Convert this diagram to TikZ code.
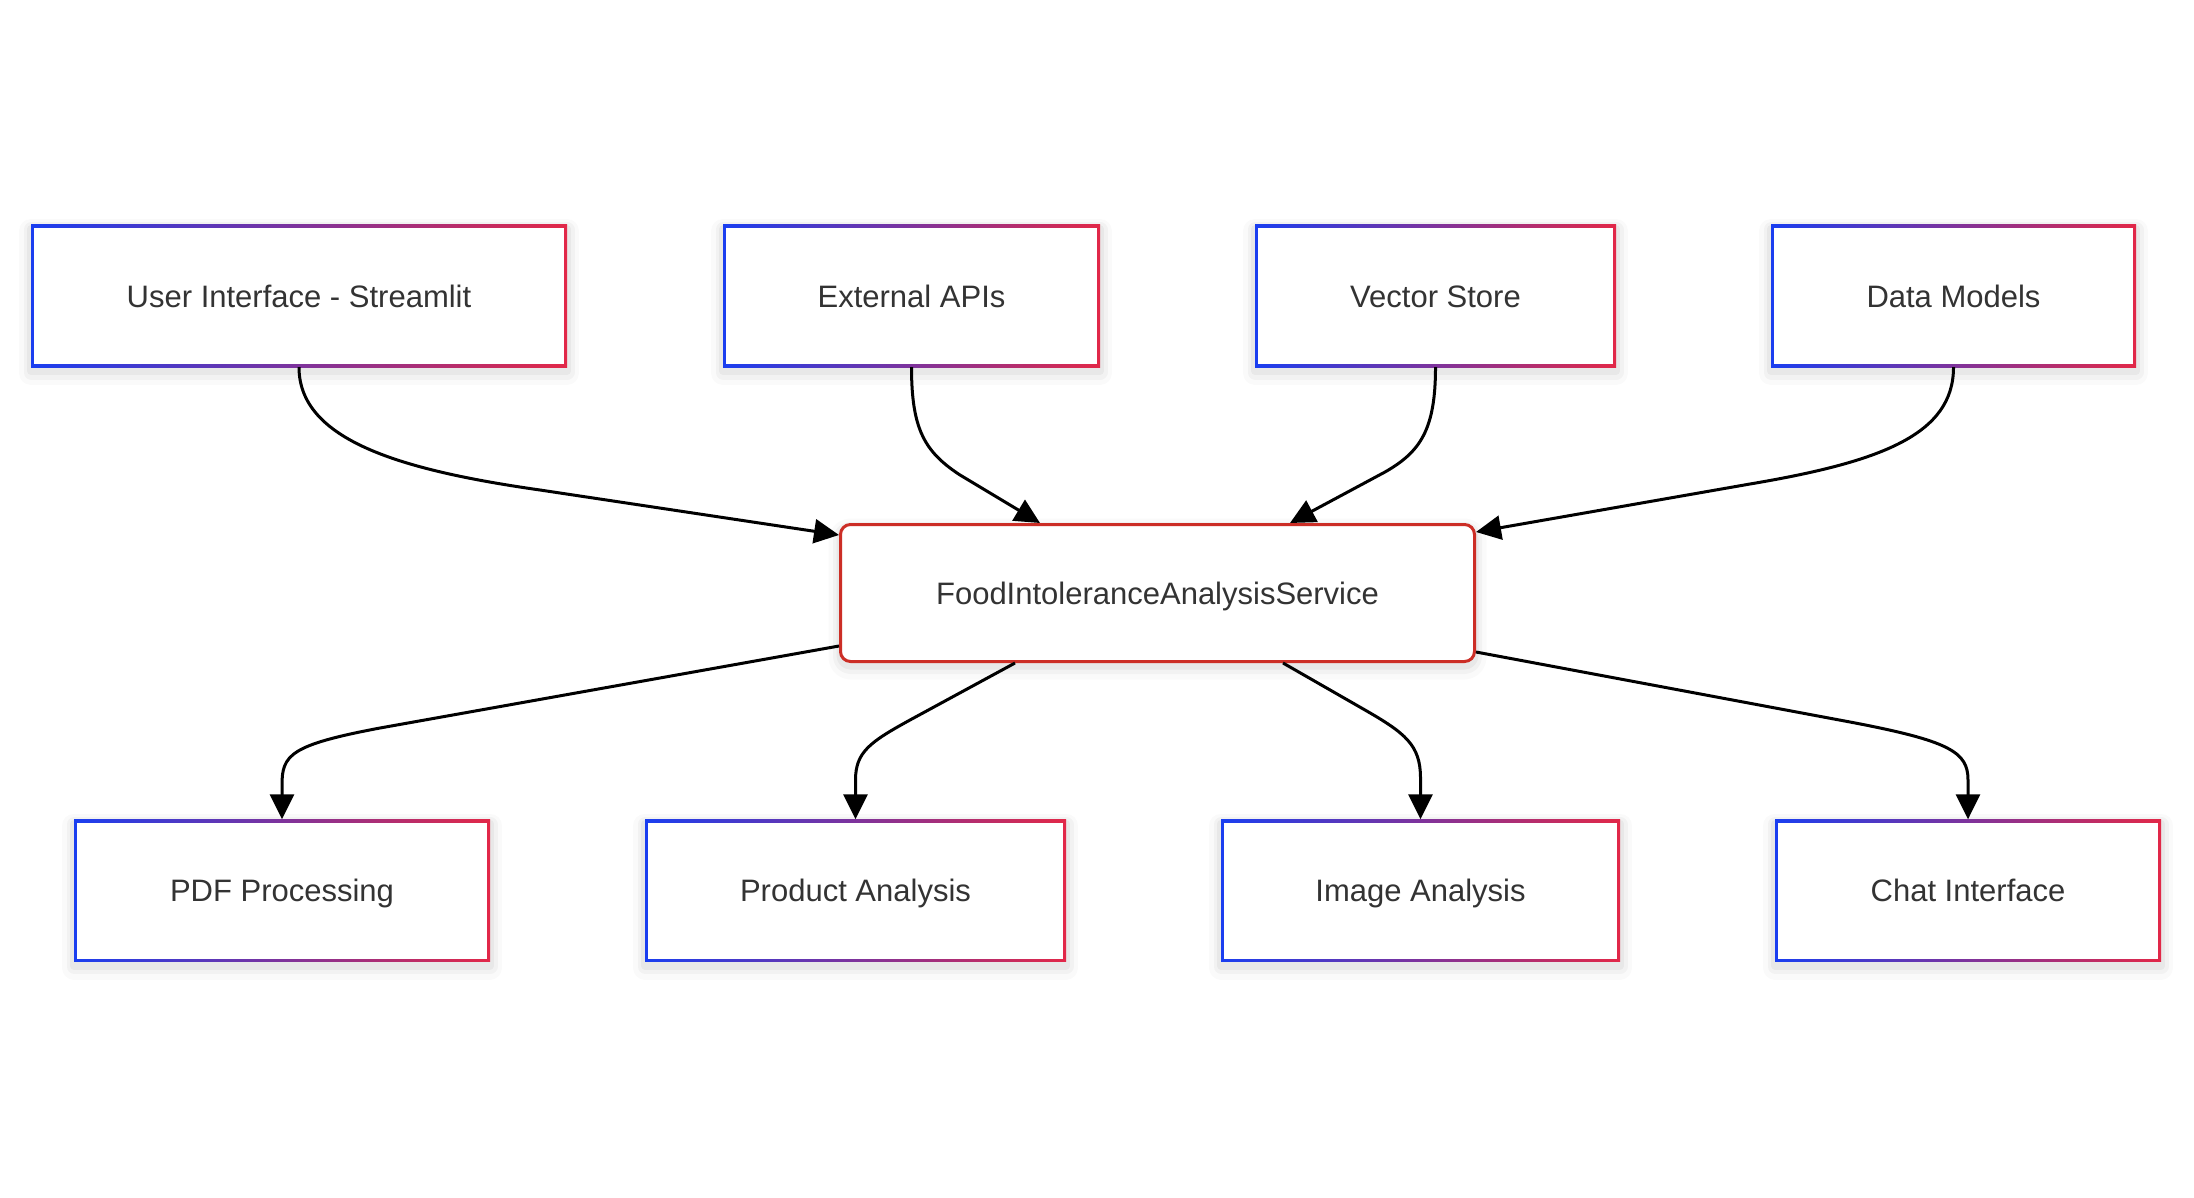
\documentclass[tikz,border=0pt]{standalone}
\usepackage{fontspec}
\setmainfont{Liberation Sans}
\usetikzlibrary{arrows.meta}
\definecolor{gblue}{RGB}{26,62,240}
\definecolor{gred}{RGB}{226,40,72}
\definecolor{svcred}{RGB}{204,46,38}
\definecolor{txt}{RGB}{51,51,51}
\tikzset{
  softshadow/.style={
    preaction={draw=black, draw opacity=0.02, line width=24pt, line join=round, transform canvas={yshift=-6pt}},
    preaction={draw=black, draw opacity=0.03, line width=15pt, line join=round, transform canvas={yshift=-5pt}},
    preaction={draw=black, draw opacity=0.04, line width=8pt, line join=round, transform canvas={yshift=-4pt}}},
  gbox/.style={rectangle, minimum height=142pt, inner sep=0pt, fill=white, text=txt,
    text height=22pt, text depth=0pt,
    font=\fontsize{31pt}{37pt}\selectfont, softshadow,
    path picture={
      \shade[left color=gblue, right color=gred] (path picture bounding box.south west) rectangle (path picture bounding box.north east);
      \fill[white] ([shift={(3pt,3pt)}]path picture bounding box.south west) rectangle ([shift={(-3pt,-3pt)}]path picture bounding box.north east);
    }},
  svcbox/.style={rectangle, rounded corners=10pt, draw=svcred, line width=3pt, fill=white, text=txt,
    inner sep=0pt, text height=22pt, text depth=0pt,
    font=\fontsize{31pt}{37pt}\selectfont, softshadow},
  link/.style={line width=3pt, draw=black, -{Triangle[length=25pt,width=24pt]}}
}
\begin{document}
\begin{tikzpicture}[x=1pt,y=-1pt]
\useasboundingbox[fill=white] (0,0) rectangle (2194,1198);

\node[gbox, minimum width=536pt] (ui) at (299,296) {User Interface - Streamlit};
\node[gbox, minimum width=377pt] (ext) at (911.5,296) {External APIs};
\node[gbox, minimum width=361pt] (vec) at (1435.5,296) {Vector Store};
\node[gbox, minimum width=365pt] (dm) at (1953.5,296) {Data Models};

\node[svcbox, minimum width=634pt, minimum height=137pt] (svc) at (1157.5,593) {FoodIntoleranceAnalysisService};

\node[gbox, minimum width=416pt] (pdf) at (282,890.5) {PDF Processing};
\node[gbox, minimum width=421pt] (prod) at (855.5,890.5) {Product Analysis};
\node[gbox, minimum width=399pt] (img) at (1420.5,890.5) {Image Analysis};
\node[gbox, minimum width=386pt] (chat) at (1968,890.5) {Chat Interface};

\draw[link] (ui.south) .. controls (299,440) and (400,470) .. (540,490) -- ([yshift=-12pt]svc.north west);
\draw[link] (ext.south) .. controls (911.5,430) and (925,452) .. (960,475) -- ([xshift=201pt]svc.north west);
\draw[link] (vec.south) .. controls (1435.5,430) and (1420,452) .. (1385,472) -- ([xshift=451pt]svc.north west);
\draw[link] (dm.south) .. controls (1953.5,435) and (1880,462) .. (1750,484) -- ([yshift=-9pt]svc.north east);

\draw[link] ([yshift=17pt]svc.south west) -- (380,728) .. controls (290,745) and (282,755) .. (282,785) -- (pdf.north);
\draw[link] ([xshift=176pt]svc.south west) -- (910,720) .. controls (870,742) and (855.5,752) .. (855.5,780) -- (prod.north);
\draw[link] ([xshift=444pt]svc.south west) -- (1365,710) .. controls (1405,733) and (1420.5,745) .. (1420.5,778) -- (img.north);
\draw[link] ([yshift=11pt]svc.south east) -- (1850,722) .. controls (1950,741) and (1968,752) .. (1968,780) -- (chat.north);
\end{tikzpicture}
\end{document}
